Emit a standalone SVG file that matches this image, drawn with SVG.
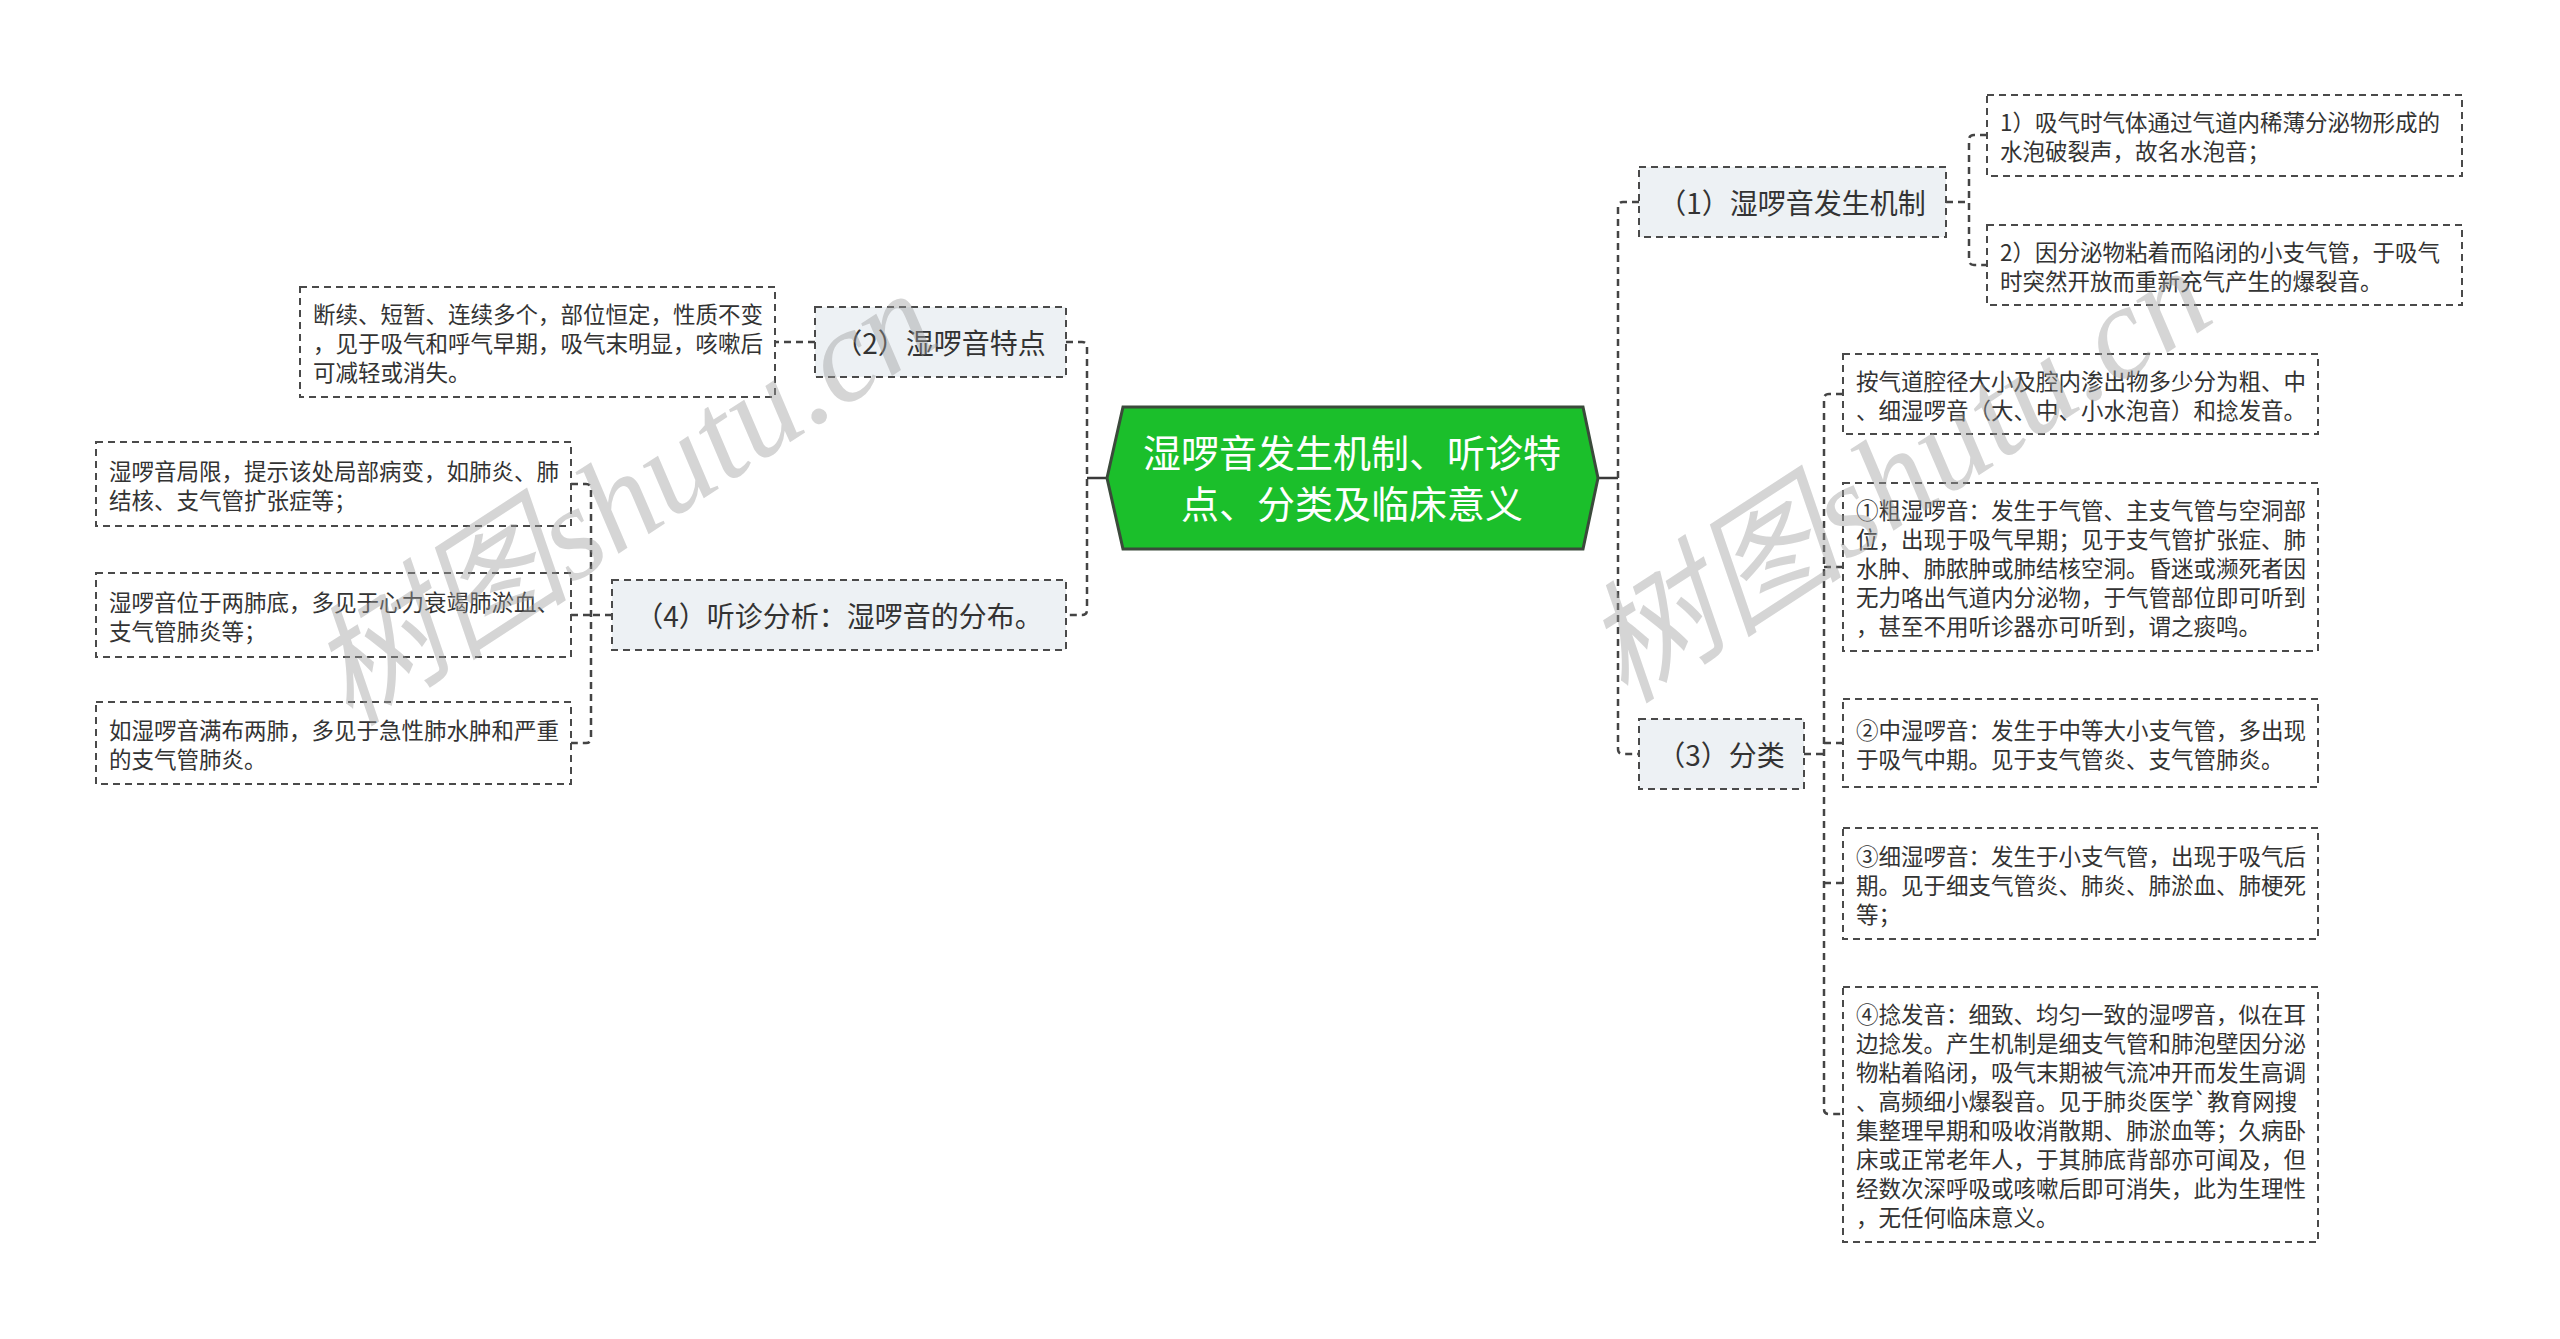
<svg xmlns="http://www.w3.org/2000/svg" width="2560" height="1339" viewBox="0 0 2560 1339">
<style>
.box{fill:#ffffff;stroke:#4a4a4a;stroke-width:2;stroke-dasharray:7 5;}
.node{fill:#edf1f4;stroke:#4a4a4a;stroke-width:2;stroke-dasharray:7 5;}
.conn{fill:none;stroke:#444;stroke-width:2.5;stroke-dasharray:7 5;}
.solid{fill:none;stroke:#3a3a3a;stroke-width:2.5;}
.t{font-family:"Noto Sans CJK SC","Microsoft YaHei",sans-serif;font-size:22.5px;fill:#333;dominant-baseline:central;}
.nt{font-family:"Noto Sans CJK SC","Microsoft YaHei",sans-serif;font-size:28px;fill:#333;dominant-baseline:central;text-anchor:middle;}
.ct{font-family:"Noto Sans CJK SC","Microsoft YaHei",sans-serif;font-size:38px;fill:#ffffff;dominant-baseline:central;text-anchor:middle;}
.wm{font-family:"Liberation Serif","Noto Sans CJK SC",serif;font-style:italic;font-size:132px;fill:#9a9a9a;fill-opacity:0.42;}
</style>
<rect width="2560" height="1339" fill="#ffffff"/>
<g id="connectors">
<path class="solid" d="M1598,478 H1618"/>
<path class="conn" d="M1639,202 H1623 Q1618,202 1618,207 V749 Q1618,754 1623,754 H1639"/>
<path class="solid" d="M1107,478 H1087"/>
<path class="conn" d="M1066,342 H1082 Q1087,342 1087,347 V610 Q1087,615 1082,615 H1066"/>
<path class="conn" d="M1946,202 H1969"/>
<path class="conn" d="M1987,135 H1974 Q1969,135 1969,140 V260 Q1969,265 1974,265 H1987"/>
<path class="conn" d="M815,342 H775"/>
<path class="conn" d="M612,615 H591"/>
<path class="conn" d="M571,484 H586 Q591,484 591,489 V738 Q591,743 586,743 H571"/>
<path class="conn" d="M571,615 H591"/>
<path class="conn" d="M1804,754 H1824"/>
<path class="conn" d="M1843,394 H1829 Q1824,394 1824,399 V1109 Q1824,1114 1829,1114 H1843"/>
<path class="conn" d="M1824,567 H1843"/>
<path class="conn" d="M1824,743 H1843"/>
<path class="conn" d="M1824,883 H1843"/>
</g>
<g id="root">
<polygon points="1107,478 1123,407 1583,407 1598,478 1583,549 1123,549" fill="#1bbf2b" stroke="#3b4a3b" stroke-width="3"/>
<text class="ct" x="1352" y="450">湿啰音发生机制、听诊特</text>
<text class="ct" x="1352" y="501">点、分类及临床意义</text>
</g>
<g id="n1">
<rect class="node" x="1639" y="167" width="307" height="70"/>
<text class="nt" x="1792" y="202">（1）湿啰音发生机制</text>
</g>
<g id="n1a">
<rect class="box" x="1987" y="95" width="475" height="81"/>
<text class="t" x="2000" y="121">1）吸气时气体通过气道内稀薄分泌物形成的</text>
<text class="t" x="2000" y="150">水泡破裂声，故名水泡音；</text>
</g>
<g id="n1b">
<rect class="box" x="1987" y="225" width="475" height="80"/>
<text class="t" x="2000" y="251">2）因分泌物粘着而陷闭的小支气管，于吸气</text>
<text class="t" x="2000" y="280">时突然开放而重新充气产生的爆裂音。</text>
</g>
<g id="n2">
<rect class="node" x="815" y="307" width="251" height="70"/>
<text class="nt" x="940" y="342">（2）湿啰音特点</text>
</g>
<g id="n2a">
<rect class="box" x="300" y="287" width="475" height="110"/>
<text class="t" x="313" y="313">断续、短暂、连续多个，部位恒定，性质不变</text>
<text class="t" x="313" y="342">，见于吸气和呼气早期，吸气末明显，咳嗽后</text>
<text class="t" x="313" y="371">可减轻或消失。</text>
</g>
<g id="n4">
<rect class="node" x="612" y="580" width="454" height="70"/>
<text class="nt" x="839" y="615">（4）听诊分析：湿啰音的分布。</text>
</g>
<g id="n4a">
<rect class="box" x="96" y="442" width="475" height="84"/>
<text class="t" x="109" y="469.5">湿啰音局限，提示该处局部病变，如肺炎、肺</text>
<text class="t" x="109" y="498.5">结核、支气管扩张症等；</text>
</g>
<g id="n4b">
<rect class="box" x="96" y="573" width="475" height="84"/>
<text class="t" x="109" y="600.5">湿啰音位于两肺底，多见于心力衰竭肺淤血、</text>
<text class="t" x="109" y="629.5">支气管肺炎等；</text>
</g>
<g id="n4c">
<rect class="box" x="96" y="702" width="475" height="82"/>
<text class="t" x="109" y="728.5">如湿啰音满布两肺，多见于急性肺水肿和严重</text>
<text class="t" x="109" y="757.5">的支气管肺炎。</text>
</g>
<g id="n3">
<rect class="node" x="1639" y="719" width="165" height="70"/>
<text class="nt" x="1721" y="754">（3）分类</text>
</g>
<g id="n3a">
<rect class="box" x="1843" y="354" width="475" height="80"/>
<text class="t" x="1856" y="380">按气道腔径大小及腔内渗出物多少分为粗、中</text>
<text class="t" x="1856" y="409">、细湿啰音（大、中、小水泡音）和捻发音。</text>
</g>
<g id="n3b">
<rect class="box" x="1843" y="483" width="475" height="168"/>
<text class="t" x="1856" y="509">①粗湿啰音：发生于气管、主支气管与空洞部</text>
<text class="t" x="1856" y="538">位，出现于吸气早期；见于支气管扩张症、肺</text>
<text class="t" x="1856" y="567">水肿、肺脓肿或肺结核空洞。昏迷或濒死者因</text>
<text class="t" x="1856" y="596">无力咯出气道内分泌物，于气管部位即可听到</text>
<text class="t" x="1856" y="625">，甚至不用听诊器亦可听到，谓之痰鸣。</text>
</g>
<g id="n3c">
<rect class="box" x="1843" y="699" width="475" height="88"/>
<text class="t" x="1856" y="728.5">②中湿啰音：发生于中等大小支气管，多出现</text>
<text class="t" x="1856" y="757.5">于吸气中期。见于支气管炎、支气管肺炎。</text>
</g>
<g id="n3d">
<rect class="box" x="1843" y="828" width="475" height="111"/>
<text class="t" x="1856" y="854.5">③细湿啰音：发生于小支气管，出现于吸气后</text>
<text class="t" x="1856" y="883.5">期。见于细支气管炎、肺炎、肺淤血、肺梗死</text>
<text class="t" x="1856" y="912.5">等；</text>
</g>
<g id="n3e">
<rect class="box" x="1843" y="987" width="475" height="255"/>
<text class="t" x="1856" y="1013">④捻发音：细致、均匀一致的湿啰音，似在耳</text>
<text class="t" x="1856" y="1042">边捻发。产生机制是细支气管和肺泡壁因分泌</text>
<text class="t" x="1856" y="1071">物粘着陷闭，吸气末期被气流冲开而发生高调</text>
<text class="t" x="1856" y="1100">、高频细小爆裂音。见于肺炎医学`教育网搜</text>
<text class="t" x="1856" y="1129">集整理早期和吸收消散期、肺淤血等；久病卧</text>
<text class="t" x="1856" y="1158">床或正常老年人，于其肺底背部亦可闻及，但</text>
<text class="t" x="1856" y="1187">经数次深呼吸或咳嗽后即可消失，此为生理性</text>
<text class="t" x="1856" y="1216">，无任何临床意义。</text>
</g>
<g id="watermark">
<text class="wm" transform="translate(350,728) rotate(-33)">树图shutu.cn</text>
<text class="wm" transform="translate(1625,705) rotate(-33)">树图shutu.cn</text>
</g>
</svg>
